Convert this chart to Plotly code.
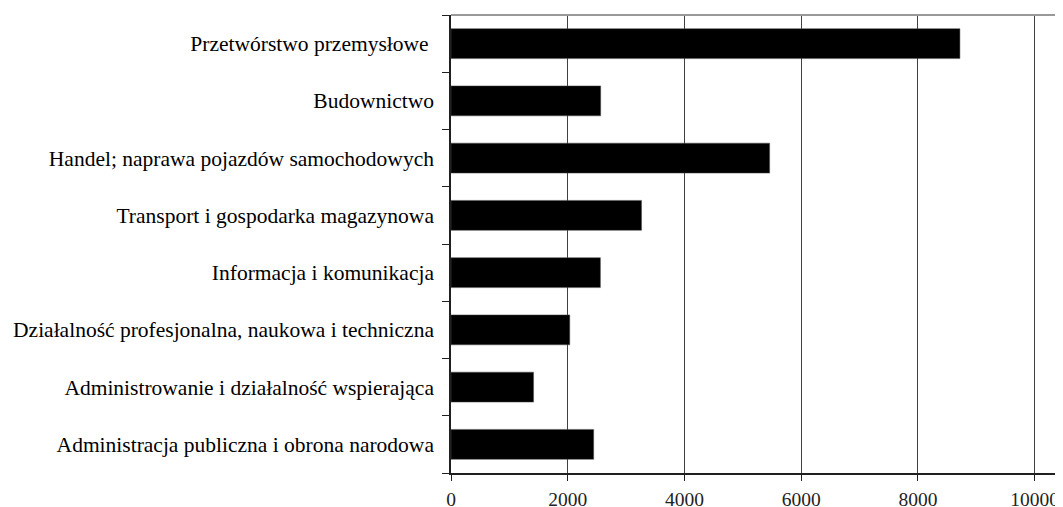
import plotly.graph_objects as go

categories = [
    "Przetwórstwo przemysłowe\u00a0",
    "Budownictwo",
    "Handel; naprawa pojazdów samochodowych",
    "Transport i gospodarka magazynowa",
    "Informacja i komunikacja",
    "Działalność profesjonalna, naukowa i techniczna",
    "Administrowanie i działalność wspierająca",
    "Administracja publiczna i obrona narodowa",
]
values = [8720, 2565, 5460, 3265, 2560, 2035, 1415, 2445]
x_ticks = [0, 2000, 4000, 6000, 8000, 10000]

fig = go.Figure(go.Bar(
    y=categories, x=values, orientation="h",
    marker=dict(color="black", line=dict(color="#555555", width=0.5)),
))

font_y = dict(family="Liberation Serif, Times New Roman, serif", size=21.5, color="black")
font_x = dict(family="Liberation Serif, Times New Roman, serif", size=19.5, color="#222222")

fig.update_layout(
    width=1055, height=499,
    margin=dict(l=443, r=0, t=7, b=34, pad=0, autoexpand=False),
    paper_bgcolor="white", plot_bgcolor="white",
    font=font_y,
    bargap=0.476,
    showlegend=False,
    xaxis=dict(
        range=[0, 10486], tickvals=x_ticks, ticktext=[str(v) for v in x_ticks],
        showgrid=True, gridcolor="#404040", gridwidth=1.3,
        showline=True, linecolor="#202020", linewidth=1.5,
        ticks="outside", ticklen=6, tickcolor="#202020", tickwidth=1.3,
        zeroline=False, tickfont=font_x, ticklabelstandoff=2, automargin=False,
    ),
    yaxis=dict(
        categoryorder="array", categoryarray=categories[::-1],
        tickson="boundaries",
        showline=True, linecolor="#202020", linewidth=1.5,
        ticks="outside", ticklen=7, tickcolor="#202020", tickwidth=1.3,
        showgrid=False, tickfont=font_y, ticklabelstandoff=11, automargin=False,
    ),
    shapes=[dict(type="line", xref="paper", yref="paper", x0=0, x1=1, y0=1, y1=1,
                 line=dict(color="#999999", width=2))],
)

fig.write_html("out.html")
